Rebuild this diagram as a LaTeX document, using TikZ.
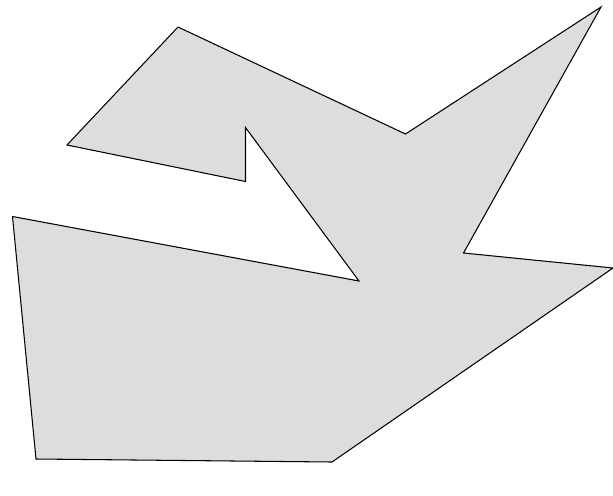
\documentclass[tikz,border=0pt]{standalone}
\usepackage{xcolor}
\usepackage{tikz}
\definecolor{shapegray}{RGB}{220, 221, 223}

\begin{document}
\begin{tikzpicture}[
    x=0.02cm, y=-0.02cm,
    outline/.style={draw=black, fill=shapegray, line width=0.6pt, line join=miter}
]
    \useasboundingbox (0,0) rectangle (613,495);
    % corners of the outline
    \coordinate (topleft) at (178,27);
    \coordinate (notch) at (405.5,134);
    \coordinate (topright) at (601,7);
    \coordinate (inner) at (463.5,253);
    \coordinate (right) at (613,268);
    \coordinate (bottom) at (332,462);
    \coordinate (bottomleft) at (36,459);
    \coordinate (left) at (12.5,216.5);
    \coordinate (tip) at (359,281);
    \coordinate (stemtop) at (245.5,127.5);
    \coordinate (stembottom) at (245.5,181.5);
    \coordinate (wing) at (67,145);
    \draw[outline] (topleft) -- (notch) -- (topright) -- (inner) -- (right)
        -- (bottom) -- (bottomleft) -- (left) -- (tip) -- (stemtop)
        -- (stembottom) -- (wing) -- cycle;
\end{tikzpicture}
\end{document}
